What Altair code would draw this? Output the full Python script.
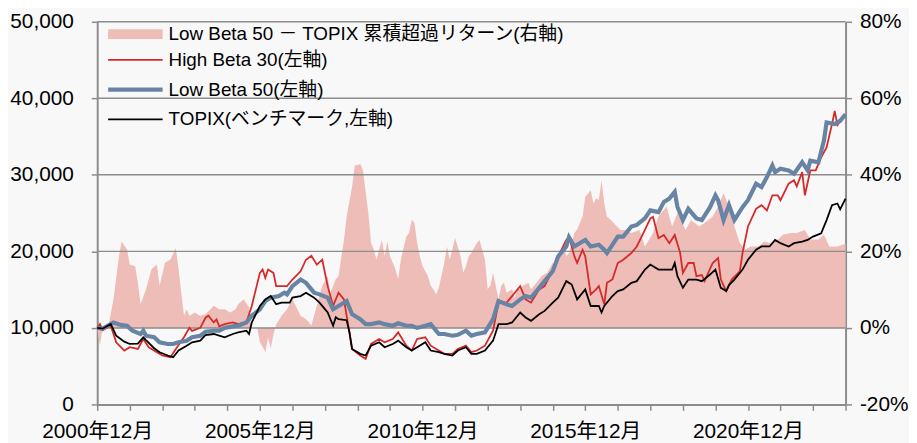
import altair as alt
import pandas as pd

# x = months since 2000年12月 (0) ... 2023年12月 (276)
# Low Beta 50 - TOPIX cumulative excess return (%), right axis
EXCESS = [(0,0),(1,-4.6),(2,0),(4,0),(6,7.5),(8,18.7),(9,22.6),(11,20.5),(12,16.6),(14,16.1),(15,11.8),(16,6.2),(18,10.1),(20,15.3),(22,16.6),(23,11),(25,17),(27,17.9),(29,20.9),(30,15.3),(32,3.2),(33,4.9),(34,3.2),(36,4),(38,3.2),(40,3.6),(43,5.8),(45,4.9),(47,4.9),(49,4),(51,4.9),(52,6.2),(54,7.5),(56,5.4),(57,0),(59,0),(60,-3.7),(62,-6.3),(63,-2.6),(64,-5.4),(65,-1.7),(66,0.9),(68,3.2),(70,4.9),(72,7.5),(75,3.2),(77,2.3),(79,0.6),(81,5.8),(83,11),(85,13.5),(86,9.2),(88,12.7),(89,13.5),(91,23),(92,29.1),(94,36.9),(95,42.5),(96,42.5),(97,42.9),(98,41.2),(100,30),(101,22.2),(102,20.5),(103,17.9),(104,20.5),(105,23),(106,18.7),(107,22.6),(108,18.7),(109,17),(110,15.3),(111,12.7),(112,17.9),(114,23.9),(115,24.8),(116,28.2),(117,27.5),(118,22.2),(119,18.7),(120,16.1),(122,13.5),(123,11),(124,10.1),(125,8.8),(126,10.5),(128,17),(129,21.3),(130,17.9),(131,20.5),(132,23.5),(134,18.7),(135,14.4),(136,16.1),(137,18.7),(138,19.6),(140,22.2),(141,23),(143,17.9),(144,10.1),(145,11),(146,14.4),(148,7.5),(149,11),(150,11.8),(151,9.2),(153,10.1),(154,7.9),(155,10.1),(156,10.1),(157,11),(159,11.8),(160,10.1),(162,11.8),(164,13.6),(166,14.4),(168,17),(169,15.7),(170,19.6),(172,21.3),(173,18.7),(174,19.6),(176,24.8),(177,25.7),(179,29.1),(180,34.3),(182,36),(183,32.6),(184,33.9),(185,33.4),(186,38.6),(187,32.6),(188,29.1),(190,27.8),(191,27),(193,25.6),(195,25.6),(197,24.8),(200,25.6),(202,21.3),(205,24.8),(207,29.1),(210,31.7),(212,26.5),(214,30),(217,25.6),(219,28.2),(222,26.5),(224,27.4),(227,29.1),(229,31.7),(231,35.2),(233,31.7),(235,26.5),(237,22.2),(239,20.5),(241,21.3),(244,21.3),(246,22.6),(248,22.2),(251,23.1),(253,24.4),(256,24.8),(258,24.8),(261,25.6),(263,23.1),(266,23.1),(268,24.4),(270,21.3),(273,21.3),(276,22)]

HIGH_BETA = [(0,10000),(1,10500),(2,9700),(5,10280),(7,8120),(10,7040),(12,7470),(15,7250),(17,8550),(19,7470),(22,6820),(24,6390),(27,6170),(29,7250),(32,8770),(34,10000),(35,9600),(38,10000),(40,11360),(41,11600),(43,10710),(44,11100),(45,10200),(47,10490),(50,10710),(52,10500),(55,10710),(57,12860),(60,17190),(61,17620),(62,16540),(63,17620),(65,17190),(66,15460),(69,15460),(70,15460),(72,16320),(75,17400),(77,18910),(79,19430),(81,18270),(83,18910),(85,15460),(87,12860),(89,14600),(91,13730),(92,11580),(94,7250),(97,6390),(99,5960),(101,7900),(104,8550),(106,8120),(109,8550),(111,9420),(114,7680),(116,7040),(118,8550),(121,8770),(123,7680),(126,7040),(128,6610),(131,6610),(133,7250),(136,7680),(138,6820),(140,7040),(143,7680),(146,9630),(148,13300),(151,13300),(153,14160),(156,15460),(158,13730),(160,13300),(163,15030),(165,15460),(168,17620),(170,19340),(173,21500),(174,21930),(176,19340),(177,18480),(179,20210),(180,19340),(182,14380),(184,15030),(185,15460),(187,13080),(188,15890),(190,16320),(192,18480),(194,18910),(197,19780),(199,20640),(202,22800),(204,24310),(205,24500),(207,21720),(209,22150),(211,21070),(213,22150),(215,19780),(216,17190),(218,18480),(220,18480),(221,16750),(223,16900),(224,16110),(227,18480),(229,19130),(230,16320),(232,14810),(234,16320),(237,17400),(238,19780),(240,23250),(243,25560),(245,26040),(247,25350),(249,27330),(251,27330),(252,26680),(255,28840),(257,29280),(258,28500),(260,30360),(261,27330),(263,30580),(265,30580),(267,32300),(269,33590),(271,36630),(272,38350),(273,36500),(276,37920)]

LOW_BETA = [(0,10000),(2,9900),(6,10710),(9,10360),(11,10280),(13,9630),(16,9200),(17,9630),(18,8980),(21,8770),(23,8120),(26,7900),(28,7900),(30,8120),(33,8330),(35,8770),(38,8980),(40,9500),(43,9630),(45,9630),(47,10000),(50,10200),(52,10280),(55,10710),(57,11580),(60,12430),(62,13510),(64,13950),(67,14160),(69,14600),(70,14380),(72,15460),(75,16320),(77,15890),(80,14600),(82,14380),(85,13950),(87,12430),(89,12860),(92,13510),(94,11790),(97,11140),(99,10490),(101,10490),(104,10710),(106,10490),(109,10280),(111,10600),(114,10280),(116,10280),(118,10000),(121,10280),(123,10490),(126,9200),(128,9200),(131,8980),(133,9100),(136,9630),(138,8980),(140,9200),(143,9420),(146,11140),(148,13510),(151,13080),(153,12860),(156,13730),(158,14160),(160,13950),(163,15240),(165,16110),(168,17400),(170,19340),(173,20640),(174,21850),(176,20640),(177,20860),(180,21500),(182,20640),(185,20860),(187,20210),(188,19780),(190,20860),(192,21930),(194,21930),(197,23250),(199,23450),(202,24310),(204,25350),(207,25130),(209,26470),(211,26900),(213,27770),(214,25800),(216,24090),(218,25560),(221,24310),(223,24090),(226,25780),(228,27330),(229,26680),(231,24090),(233,26040),(235,24090),(238,25780),(240,26680),(243,28840),(245,28410),(247,29710),(249,31220),(250,30360),(252,30790),(255,30580),(257,30140),(260,31650),(262,30580),(263,31860),(266,31650),(268,34460),(269,36840),(272,36630),(274,37060),(276,37920)]

TOPIX = [(0,10000),(2,9900),(5,10500),(7,8980),(10,8200),(12,7900),(15,7950),(17,8770),(18,8400),(21,7340),(23,6820),(26,6390),(28,6170),(30,7040),(33,7680),(35,8120),(38,8330),(40,9070),(43,9200),(45,8980),(47,8770),(50,9200),(52,9420),(55,9630),(56,9200),(57,10710),(60,12860),(62,13730),(64,14160),(66,13100),(68,13300),(71,13300),(72,13950),(75,14160),(77,14600),(80,13950),(82,13300),(85,12010),(87,10280),(88,11400),(89,11140),(92,11000),(93,9500),(94,7250),(97,6610),(99,6390),(101,7680),(104,8120),(106,7470),(109,7900),(111,8330),(114,7470),(116,7040),(118,7470),(121,8120),(123,7040),(126,6820),(128,6610),(131,6390),(133,7040),(136,7470),(138,6610),(140,6610),(143,7040),(146,8330),(148,10490),(151,10490),(153,10710),(156,12010),(158,11360),(160,10920),(163,11790),(165,12220),(168,13300),(170,13950),(173,16110),(175,15670),(177,13730),(180,15030),(182,12860),(185,12860),(186,12010),(187,12860),(190,14160),(192,14810),(194,15030),(197,15890),(199,16110),(202,17620),(204,18270),(207,17620),(209,17620),(212,17620),(213,18480),(214,16750),(216,15240),(218,16320),(221,16320),(223,16100),(226,16970),(228,17620),(230,15240),(232,14810),(233,15600),(235,16320),(238,17620),(240,18910),(243,20210),(245,20640),(248,20640),(250,21500),(252,21070),(255,20640),(257,21070),(260,21280),(262,21500),(264,21930),(267,22360),(269,24090),(271,26040),(273,26260),(274,25500),(276,26900)]

S_EX = "Low Beta 50 － TOPIX  累積超過リターン(右軸)"
S_HB = "High Beta 30(左軸)"
S_LB = "Low Beta 50(左軸)"
S_TP = "TOPIX(ベンチマーク,左軸)"
LINE_SERIES = [S_HB, S_LB, S_TP]
LINE_COLORS = ["#d42a2a", "#6884a4", "#000000"]
LINE_WIDTHS = [1.8, 4.2, 1.8]
AREA_COLOR = "#efbdb8"

LEFT_TICKS = [0, 10000, 20000, 30000, 40000, 50000]
GRID = [10000, 20000, 30000, 40000, 50000]
RIGHT_TICKS = [-20, 0, 20, 40, 60, 80]
X_TICKS = list(range(0, 277, 12))

FONT = "Liberation Sans, Arial, Noto Sans CJK JP, sans-serif"
GRAY = "#8c8c8c"

area_df = pd.DataFrame(EXCESS, columns=["m", "r"])
area_df["series"] = S_EX
rows = []
for name, pts in zip(LINE_SERIES, [HIGH_BETA, LOW_BETA, TOPIX]):
    for m, v in pts:
        rows.append({"m": m, "v": v, "series": name})
line_df = pd.DataFrame(rows)
grid_df = pd.DataFrame({"g": GRID})

x_axis = alt.Axis(
    values=X_TICKS,
    labelExpr="datum.value % 60 == 0 ? (2000 + datum.value / 12) + '年12月' : ''",
    title=None, grid=False, tickSize=6, labelPadding=10, labelFlush=False,
    labelOverlap=False,
)
x_scale = alt.Scale(domain=[0, 276], nice=False, zero=False)

left_scale = alt.Scale(domain=[0, 50000], nice=False)
left_axis = alt.Axis(values=LEFT_TICKS, format=",d", title=None, grid=False,
                     orient="left", labelPadding=18, tickSize=6)

area_legend = alt.Legend(
    title=None, orient="none", legendX=29, legendY=3,
    symbolType="M-5,-0.9H5V0.9H-5Z", symbolSize=121,
    labelFont=FONT, labelFontSize=19, labelColor="black",
    labelOffset=24, labelLimit=600,
)

area = alt.Chart(area_df).mark_area(interpolate="linear").encode(
    x=alt.X("m:Q", scale=x_scale, axis=x_axis),
    y=alt.Y("r:Q", scale=alt.Scale(domain=[-20, 80], nice=False),
            axis=alt.Axis(orient="right", values=RIGHT_TICKS,
                          labelExpr="datum.value + '%'", title=None,
                          grid=False, labelPadding=8, tickSize=6)),
    y2=alt.datum(0),
    color=alt.Color("series:N", scale=alt.Scale(domain=[S_EX], range=[AREA_COLOR]),
                    legend=area_legend),
)

rules = alt.Chart(grid_df).mark_rule(color=GRAY, strokeWidth=1.5).encode(
    y=alt.Y("g:Q", scale=left_scale, axis=left_axis),
)

line_legend = alt.Legend(
    title=None, orient="none", legendX=29, legendY=29,
    symbolType="M-5,0H5", symbolSize=121,
    labelFont=FONT, labelFontSize=19, labelColor="black",
    rowPadding=10, labelOffset=24, labelLimit=600,
)

lines = alt.Chart(line_df).mark_line(interpolate="linear").encode(
    x=alt.X("m:Q", scale=x_scale, axis=x_axis),
    y=alt.Y("v:Q", scale=left_scale, axis=left_axis),
    color=alt.Color("series:N", scale=alt.Scale(domain=LINE_SERIES, range=LINE_COLORS),
                    legend=line_legend),
    strokeWidth=alt.StrokeWidth("series:N",
                                scale=alt.Scale(type="ordinal", domain=LINE_SERIES,
                                                range=LINE_WIDTHS),
                                legend=line_legend),
)

inner = alt.layer(rules, lines)

chart = alt.layer(area, inner).resolve_scale(
    y="independent", color="independent", strokeWidth="independent"
).properties(
    width=755, height=386, background="#f8f8f8",
    autosize=alt.AutoSizeParams(type="none"),
    padding={"left": 90, "top": 12, "right": 64, "bottom": 37},
).configure_view(stroke=None).configure_axis(
    labelFont=FONT, labelFontSize=21, labelColor="black",
    domainColor=GRAY, domainWidth=2, tickColor=GRAY, tickWidth=1.5,
)

chart.save("out.html", embed_options={"renderer": "svg", "actions": False})
